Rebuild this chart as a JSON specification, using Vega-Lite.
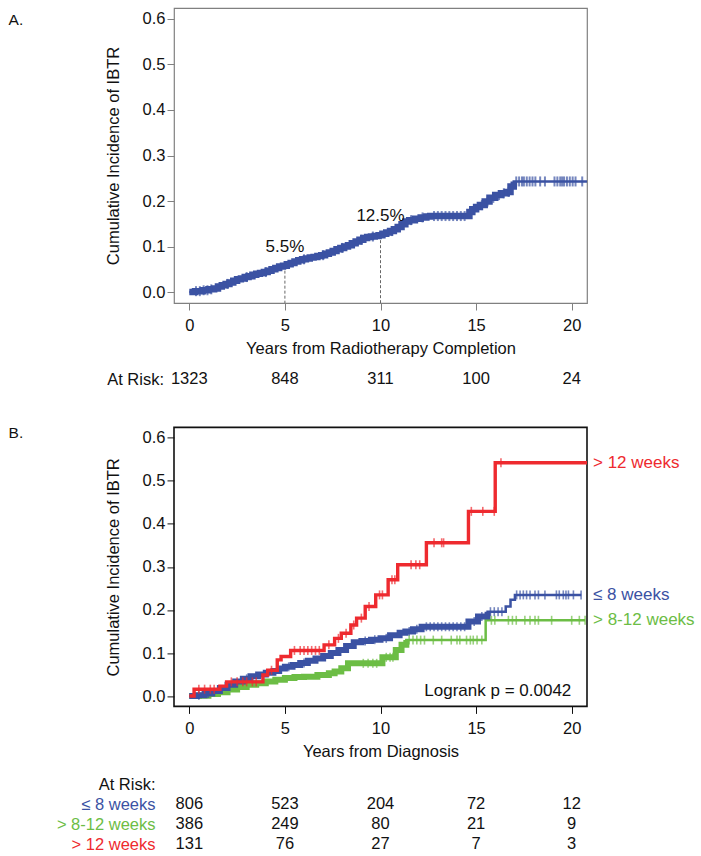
{
  "$schema": "https://vega.github.io/schema/vega-lite/v6.json",
  "padding": {"left": 7, "top": 7, "right": 5, "bottom": 0},
  "spacing": 12.7,
  "config": {
    "font": "Liberation Sans",
    "axis": {"grid": false, "domain": false, "labelFontSize": 16.5, "titleFontSize": 16.5, "titleFontWeight": "normal", "labelColor": "#111", "titleColor": "#111", "labelFlush": false},
    "title": {"fontSize": 15.5, "fontWeight": "normal", "color": "#111", "anchor": "start", "frame": "group"},
    "text": {"font": "Liberation Sans"}
  },
  "datasets": {
    "curveA": [
      {"t":0,"ci":0},{"t":0.3,"ci":0.002},{"t":0.7,"ci":0.004},{"t":1.0,"ci":0.006},{"t":1.3,"ci":0.008},{"t":1.5,"ci":0.012},{"t":1.7,"ci":0.015},{"t":1.9,"ci":0.018},{"t":2.1,"ci":0.021},{"t":2.3,"ci":0.025},{"t":2.5,"ci":0.028},{"t":2.7,"ci":0.030},{"t":2.9,"ci":0.033},{"t":3.1,"ci":0.035},{"t":3.3,"ci":0.038},{"t":3.5,"ci":0.040},{"t":3.7,"ci":0.042},{"t":3.9,"ci":0.044},{"t":4.1,"ci":0.047},{"t":4.3,"ci":0.050},{"t":4.5,"ci":0.053},{"t":4.7,"ci":0.056},{"t":4.9,"ci":0.058},{"t":5.1,"ci":0.061},{"t":5.3,"ci":0.064},{"t":5.5,"ci":0.067},{"t":5.7,"ci":0.070},{"t":5.9,"ci":0.072},{"t":6.1,"ci":0.074},{"t":6.3,"ci":0.076},{"t":6.5,"ci":0.077},{"t":6.7,"ci":0.079},{"t":6.9,"ci":0.081},{"t":7.1,"ci":0.084},{"t":7.3,"ci":0.087},{"t":7.5,"ci":0.090},{"t":7.7,"ci":0.094},{"t":7.9,"ci":0.097},{"t":8.1,"ci":0.100},{"t":8.3,"ci":0.103},{"t":8.5,"ci":0.107},{"t":8.7,"ci":0.111},{"t":8.9,"ci":0.115},{"t":9.1,"ci":0.119},{"t":9.3,"ci":0.121},{"t":9.5,"ci":0.122},{"t":9.7,"ci":0.123},{"t":9.9,"ci":0.125},{"t":10.1,"ci":0.128},{"t":10.3,"ci":0.131},{"t":10.5,"ci":0.134},{"t":10.7,"ci":0.138},{"t":10.9,"ci":0.143},{"t":11.1,"ci":0.149},{"t":11.3,"ci":0.155},{"t":11.5,"ci":0.158},{"t":11.8,"ci":0.161},{"t":12.1,"ci":0.164},{"t":12.4,"ci":0.166},{"t":12.6,"ci":0.167},{"t":14.65,"ci":0.176},{"t":14.8,"ci":0.182},{"t":15.0,"ci":0.187},{"t":15.2,"ci":0.191},{"t":15.45,"ci":0.199},{"t":15.7,"ci":0.207},{"t":16.0,"ci":0.213},{"t":16.3,"ci":0.217},{"t":16.6,"ci":0.220},{"t":16.8,"ci":0.232},{"t":16.97,"ci":0.243},{"t":20.8,"ci":0.243}
    ],
    "censA": [
      {"t":0.35,"ci":0.002},{"t":0.55,"ci":0.002},{"t":0.75,"ci":0.004},{"t":0.95,"ci":0.004},{"t":1.15,"ci":0.006},
      {"t":2.0,"ci":0.018},{"t":3.0,"ci":0.033},{"t":4.0,"ci":0.044},{"t":6.0,"ci":0.072},{"t":7.0,"ci":0.081},{"t":8.0,"ci":0.097},{"t":9.0,"ci":0.115},{"t":9.6,"ci":0.122},{"t":10.6,"ci":0.134},{"t":11.6,"ci":0.158},{"t":12.2,"ci":0.164},
      {"t":12.8,"ci":0.167},{"t":13.0,"ci":0.167},{"t":13.2,"ci":0.167},{"t":13.4,"ci":0.167},{"t":13.6,"ci":0.167},{"t":13.8,"ci":0.167},{"t":14.0,"ci":0.167},{"t":14.2,"ci":0.167},{"t":14.4,"ci":0.167},
      {"t":14.9,"ci":0.182},{"t":15.3,"ci":0.191},{"t":15.6,"ci":0.199},{"t":15.9,"ci":0.207},{"t":16.2,"ci":0.213},{"t":16.45,"ci":0.217},{"t":16.7,"ci":0.220},
      {"t":17.1,"ci":0.243},{"t":17.25,"ci":0.243},{"t":17.4,"ci":0.243},{"t":17.5,"ci":0.243},{"t":17.65,"ci":0.243},{"t":17.8,"ci":0.243},{"t":17.95,"ci":0.243},{"t":18.1,"ci":0.243},{"t":18.35,"ci":0.243},{"t":18.6,"ci":0.243},{"t":19.1,"ci":0.243},{"t":19.25,"ci":0.243},{"t":19.4,"ci":0.243},{"t":19.5,"ci":0.243},{"t":19.6,"ci":0.243},{"t":19.75,"ci":0.243},{"t":19.9,"ci":0.243},{"t":20.05,"ci":0.243},{"t":20.2,"ci":0.243},{"t":20.55,"ci":0.243}
    ],
    "annotA": [
      {"t":5,"ci":0.058,"label":"5.5%"},
      {"t":10,"ci":0.125,"label":"12.5%"}
    ],
    "curvesB": [
      {"g":"≤ 8 weeks","t":0,"ci":0},{"g":"≤ 8 weeks","t":0.4,"ci":0.002},{"g":"≤ 8 weeks","t":0.8,"ci":0.006},{"g":"≤ 8 weeks","t":1.2,"ci":0.012},{"g":"≤ 8 weeks","t":1.6,"ci":0.019},{"g":"≤ 8 weeks","t":2.0,"ci":0.026},{"g":"≤ 8 weeks","t":2.4,"ci":0.034},{"g":"≤ 8 weeks","t":2.8,"ci":0.040},{"g":"≤ 8 weeks","t":3.2,"ci":0.046},{"g":"≤ 8 weeks","t":3.6,"ci":0.050},{"g":"≤ 8 weeks","t":4.0,"ci":0.054},{"g":"≤ 8 weeks","t":4.4,"ci":0.058},{"g":"≤ 8 weeks","t":4.7,"ci":0.064},{"g":"≤ 8 weeks","t":5.0,"ci":0.068},{"g":"≤ 8 weeks","t":5.4,"ci":0.072},{"g":"≤ 8 weeks","t":5.8,"ci":0.077},{"g":"≤ 8 weeks","t":6.2,"ci":0.082},{"g":"≤ 8 weeks","t":6.6,"ci":0.087},{"g":"≤ 8 weeks","t":7.0,"ci":0.093},{"g":"≤ 8 weeks","t":7.4,"ci":0.100},{"g":"≤ 8 weeks","t":7.8,"ci":0.107},{"g":"≤ 8 weeks","t":8.2,"ci":0.116},{"g":"≤ 8 weeks","t":8.6,"ci":0.125},{"g":"≤ 8 weeks","t":9.0,"ci":0.128},{"g":"≤ 8 weeks","t":9.5,"ci":0.131},{"g":"≤ 8 weeks","t":10.0,"ci":0.134},{"g":"≤ 8 weeks","t":10.5,"ci":0.141},{"g":"≤ 8 weeks","t":11.0,"ci":0.147},{"g":"≤ 8 weeks","t":11.3,"ci":0.150},{"g":"≤ 8 weeks","t":11.7,"ci":0.155},{"g":"≤ 8 weeks","t":12.15,"ci":0.161},{"g":"≤ 8 weeks","t":14.6,"ci":0.173},{"g":"≤ 8 weeks","t":15.1,"ci":0.185},{"g":"≤ 8 weeks","t":15.6,"ci":0.196},{"g":"≤ 8 weeks","t":16.55,"ci":0.208},{"g":"≤ 8 weeks","t":16.8,"ci":0.2235},{"g":"≤ 8 weeks","t":17.03,"ci":0.235},{"g":"≤ 8 weeks","t":20.5,"ci":0.235},
      {"g":"> 8-12 weeks","t":0,"ci":0},{"g":"> 8-12 weeks","t":0.5,"ci":0.001},{"g":"> 8-12 weeks","t":1.0,"ci":0.005},{"g":"> 8-12 weeks","t":1.5,"ci":0.009},{"g":"> 8-12 weeks","t":2.0,"ci":0.015},{"g":"> 8-12 weeks","t":2.5,"ci":0.021},{"g":"> 8-12 weeks","t":3.0,"ci":0.026},{"g":"> 8-12 weeks","t":3.5,"ci":0.030},{"g":"> 8-12 weeks","t":4.0,"ci":0.034},{"g":"> 8-12 weeks","t":4.5,"ci":0.038},{"g":"> 8-12 weeks","t":5.0,"ci":0.042},{"g":"> 8-12 weeks","t":5.5,"ci":0.044},{"g":"> 8-12 weeks","t":6.0,"ci":0.045},{"g":"> 8-12 weeks","t":6.7,"ci":0.049},{"g":"> 8-12 weeks","t":7.3,"ci":0.053},{"g":"> 8-12 weeks","t":7.6,"ci":0.057},{"g":"> 8-12 weeks","t":7.95,"ci":0.0645},{"g":"> 8-12 weeks","t":8.3,"ci":0.076},{"g":"> 8-12 weeks","t":10.1,"ci":0.090},{"g":"> 8-12 weeks","t":10.8,"ci":0.107},{"g":"> 8-12 weeks","t":11.1,"ci":0.119},{"g":"> 8-12 weeks","t":11.35,"ci":0.130},{"g":"> 8-12 weeks","t":15.5,"ci":0.176},{"g":"> 8-12 weeks","t":20.7,"ci":0.176},
      {"g":"> 12 weeks","t":0,"ci":0},{"g":"> 12 weeks","t":0.25,"ci":0.016},{"g":"> 12 weeks","t":1.6,"ci":0.023},{"g":"> 12 weeks","t":1.95,"ci":0.033},{"g":"> 12 weeks","t":3.85,"ci":0.049},{"g":"> 12 weeks","t":4.1,"ci":0.060},{"g":"> 12 weeks","t":4.6,"ci":0.084},{"g":"> 12 weeks","t":4.8,"ci":0.092},{"g":"> 12 weeks","t":5.3,"ci":0.106},{"g":"> 12 weeks","t":7.05,"ci":0.119},{"g":"> 12 weeks","t":7.6,"ci":0.134},{"g":"> 12 weeks","t":7.95,"ci":0.146},{"g":"> 12 weeks","t":8.45,"ci":0.165},{"g":"> 12 weeks","t":8.75,"ci":0.181},{"g":"> 12 weeks","t":9.2,"ci":0.208},{"g":"> 12 weeks","t":9.75,"ci":0.235},{"g":"> 12 weeks","t":10.4,"ci":0.270},{"g":"> 12 weeks","t":10.9,"ci":0.305},{"g":"> 12 weeks","t":12.4,"ci":0.356},{"g":"> 12 weeks","t":14.6,"ci":0.429},{"g":"> 12 weeks","t":16.0,"ci":0.542},{"g":"> 12 weeks","t":20.8,"ci":0.542}
    ],
    "censB": [
      {"g":"≤ 8 weeks","t":0.5,"ci":0.002},{"g":"≤ 8 weeks","t":1.0,"ci":0.006},{"g":"≤ 8 weeks","t":3.0,"ci":0.040},{"g":"≤ 8 weeks","t":5.2,"ci":0.068},{"g":"≤ 8 weeks","t":6.0,"ci":0.077},{"g":"≤ 8 weeks","t":9.2,"ci":0.128},{"g":"≤ 8 weeks","t":9.7,"ci":0.131},{"g":"≤ 8 weeks","t":10.3,"ci":0.134},{"g":"≤ 8 weeks","t":11.5,"ci":0.150},{"g":"≤ 8 weeks","t":11.9,"ci":0.155},
      {"g":"≤ 8 weeks","t":12.4,"ci":0.161},{"g":"≤ 8 weeks","t":12.6,"ci":0.161},{"g":"≤ 8 weeks","t":12.8,"ci":0.161},{"g":"≤ 8 weeks","t":13.0,"ci":0.161},{"g":"≤ 8 weeks","t":13.2,"ci":0.161},{"g":"≤ 8 weeks","t":13.4,"ci":0.161},{"g":"≤ 8 weeks","t":13.6,"ci":0.161},{"g":"≤ 8 weeks","t":13.8,"ci":0.161},{"g":"≤ 8 weeks","t":14.0,"ci":0.161},{"g":"≤ 8 weeks","t":14.2,"ci":0.161},{"g":"≤ 8 weeks","t":14.4,"ci":0.161},
      {"g":"≤ 8 weeks","t":14.9,"ci":0.173},{"g":"≤ 8 weeks","t":15.3,"ci":0.185},{"g":"≤ 8 weeks","t":15.75,"ci":0.196},{"g":"≤ 8 weeks","t":15.95,"ci":0.196},{"g":"≤ 8 weeks","t":16.15,"ci":0.196},{"g":"≤ 8 weeks","t":16.35,"ci":0.196},
      {"g":"≤ 8 weeks","t":17.12,"ci":0.235},{"g":"≤ 8 weeks","t":17.3,"ci":0.235},{"g":"≤ 8 weeks","t":17.47,"ci":0.235},{"g":"≤ 8 weeks","t":17.64,"ci":0.235},{"g":"≤ 8 weeks","t":17.82,"ci":0.235},{"g":"≤ 8 weeks","t":18.08,"ci":0.235},{"g":"≤ 8 weeks","t":18.26,"ci":0.235},{"g":"≤ 8 weeks","t":18.6,"ci":0.235},{"g":"≤ 8 weeks","t":19.2,"ci":0.235},{"g":"≤ 8 weeks","t":19.35,"ci":0.235},{"g":"≤ 8 weeks","t":19.56,"ci":0.235},{"g":"≤ 8 weeks","t":19.7,"ci":0.235},{"g":"≤ 8 weeks","t":19.83,"ci":0.235},{"g":"≤ 8 weeks","t":20.09,"ci":0.235},{"g":"≤ 8 weeks","t":20.49,"ci":0.235},
      {"g":"> 8-12 weeks","t":9.1,"ci":0.076},{"g":"> 8-12 weeks","t":9.35,"ci":0.076},{"g":"> 8-12 weeks","t":9.6,"ci":0.076},{"g":"> 8-12 weeks","t":9.8,"ci":0.076},
      {"g":"> 8-12 weeks","t":10.3,"ci":0.090},{"g":"> 8-12 weeks","t":10.5,"ci":0.090},{"g":"> 8-12 weeks","t":10.65,"ci":0.090},
      {"g":"> 8-12 weeks","t":11.5,"ci":0.130},{"g":"> 8-12 weeks","t":11.7,"ci":0.130},{"g":"> 8-12 weeks","t":11.9,"ci":0.130},{"g":"> 8-12 weeks","t":12.1,"ci":0.130},{"g":"> 8-12 weeks","t":12.3,"ci":0.130},{"g":"> 8-12 weeks","t":12.76,"ci":0.130},{"g":"> 8-12 weeks","t":13.2,"ci":0.130},{"g":"> 8-12 weeks","t":13.7,"ci":0.130},{"g":"> 8-12 weeks","t":14.0,"ci":0.130},{"g":"> 8-12 weeks","t":14.15,"ci":0.130},{"g":"> 8-12 weeks","t":14.5,"ci":0.130},{"g":"> 8-12 weeks","t":14.7,"ci":0.130},{"g":"> 8-12 weeks","t":14.85,"ci":0.130},{"g":"> 8-12 weeks","t":15.05,"ci":0.130},{"g":"> 8-12 weeks","t":15.3,"ci":0.130},
      {"g":"> 8-12 weeks","t":15.8,"ci":0.176},{"g":"> 8-12 weeks","t":15.98,"ci":0.176},{"g":"> 8-12 weeks","t":16.69,"ci":0.176},{"g":"> 8-12 weeks","t":16.9,"ci":0.176},{"g":"> 8-12 weeks","t":17.1,"ci":0.176},{"g":"> 8-12 weeks","t":17.55,"ci":0.176},{"g":"> 8-12 weeks","t":17.82,"ci":0.176},{"g":"> 8-12 weeks","t":18.08,"ci":0.176},{"g":"> 8-12 weeks","t":18.26,"ci":0.176},{"g":"> 8-12 weeks","t":18.95,"ci":0.176},{"g":"> 8-12 weeks","t":20.0,"ci":0.176},{"g":"> 8-12 weeks","t":20.4,"ci":0.176},{"g":"> 8-12 weeks","t":20.7,"ci":0.176},
      {"g":"> 12 weeks","t":0.5,"ci":0.016},{"g":"> 12 weeks","t":0.8,"ci":0.016},{"g":"> 12 weeks","t":1.1,"ci":0.016},{"g":"> 12 weeks","t":1.3,"ci":0.016},{"g":"> 12 weeks","t":2.2,"ci":0.033},{"g":"> 12 weeks","t":2.5,"ci":0.033},{"g":"> 12 weeks","t":2.8,"ci":0.033},{"g":"> 12 weeks","t":3.0,"ci":0.033},{"g":"> 12 weeks","t":3.3,"ci":0.033},{"g":"> 12 weeks","t":3.5,"ci":0.033},{"g":"> 12 weeks","t":4.3,"ci":0.060},{"g":"> 12 weeks","t":5.5,"ci":0.106},{"g":"> 12 weeks","t":5.8,"ci":0.106},{"g":"> 12 weeks","t":6.0,"ci":0.106},{"g":"> 12 weeks","t":6.2,"ci":0.106},{"g":"> 12 weeks","t":6.4,"ci":0.106},{"g":"> 12 weeks","t":6.6,"ci":0.106},{"g":"> 12 weeks","t":6.8,"ci":0.106},{"g":"> 12 weeks","t":7.3,"ci":0.119},{"g":"> 12 weeks","t":7.8,"ci":0.134},{"g":"> 12 weeks","t":8.2,"ci":0.146},{"g":"> 12 weeks","t":8.6,"ci":0.165},{"g":"> 12 weeks","t":9.0,"ci":0.181},{"g":"> 12 weeks","t":9.4,"ci":0.208},{"g":"> 12 weeks","t":9.95,"ci":0.235},{"g":"> 12 weeks","t":10.1,"ci":0.235},{"g":"> 12 weeks","t":10.6,"ci":0.270},{"g":"> 12 weeks","t":10.75,"ci":0.270},{"g":"> 12 weeks","t":11.6,"ci":0.305},{"g":"> 12 weeks","t":11.85,"ci":0.305},{"g":"> 12 weeks","t":12.05,"ci":0.305},{"g":"> 12 weeks","t":12.8,"ci":0.356},{"g":"> 12 weeks","t":13.2,"ci":0.356},{"g":"> 12 weeks","t":13.3,"ci":0.356},{"g":"> 12 weeks","t":14.75,"ci":0.429},{"g":"> 12 weeks","t":15.35,"ci":0.429},{"g":"> 12 weeks","t":15.95,"ci":0.429},{"g":"> 12 weeks","t":16.3,"ci":0.542}
    ],
    "riskA": [
      {"row":"At Risk:","t":0,"n":"1323"},{"row":"At Risk:","t":5,"n":"848"},{"row":"At Risk:","t":10,"n":"311"},{"row":"At Risk:","t":15,"n":"100"},{"row":"At Risk:","t":20,"n":"24"}
    ],
    "riskB": [
      {"row":"≤ 8 weeks","t":0,"n":"806"},{"row":"≤ 8 weeks","t":5,"n":"523"},{"row":"≤ 8 weeks","t":10,"n":"204"},{"row":"≤ 8 weeks","t":15,"n":"72"},{"row":"≤ 8 weeks","t":20,"n":"12"},
      {"row":"> 8-12 weeks","t":0,"n":"386"},{"row":"> 8-12 weeks","t":5,"n":"249"},{"row":"> 8-12 weeks","t":10,"n":"80"},{"row":"> 8-12 weeks","t":15,"n":"21"},{"row":"> 8-12 weeks","t":20,"n":"9"},
      {"row":"> 12 weeks","t":0,"n":"131"},{"row":"> 12 weeks","t":5,"n":"76"},{"row":"> 12 weeks","t":10,"n":"27"},{"row":"> 12 weeks","t":15,"n":"7"},{"row":"> 12 weeks","t":20,"n":"3"}
    ]
  },
  "vconcat": [
    {
      "width": 413, "height": 295,
      "view": {"stroke": "#808080", "strokeWidth": 1.2},
      "title": {"text": "A.", "dx": -165.4, "offset": -20},
      "encoding": {
        "x": {"field": "t", "type": "quantitative", "scale": {"domain": [-0.8, 20.8], "nice": false, "zero": false},
              "axis": {"values": [0,5,10,15,20], "tickSize": 7, "labelPadding": 7, "titlePadding": 7, "tickColor": "#808080", "title": "Years from Radiotherapy Completion"}},
        "y": {"field": "ci", "type": "quantitative", "scale": {"domain": [-0.024, 0.624], "nice": false, "zero": false},
              "axis": {"values": [0,0.1,0.2,0.3,0.4,0.5,0.6], "format": ".1f", "tickSize": 7, "labelPadding": 2, "titlePadding": 21, "tickColor": "#808080", "title": "Cumulative Incidence of IBTR"}}
      },
      "layer": [
        {"data": {"name": "annotA"}, "mark": {"type": "rule", "strokeDash": [3, 2], "color": "#666666", "strokeWidth": 1}, "encoding": {"y2": {"datum": -0.024}}},
        {"data": {"name": "curveA"}, "mark": {"type": "line", "interpolate": "step-after", "strokeWidth": 2.5, "color": "#3B52A3"}},
        {"data": {"name": "curveA"}, "transform": [{"filter": "datum.t <= 17"}], "mark": {"type": "line", "interpolate": "step-after", "strokeWidth": 6.5, "color": "#3B52A3"}},
        {"data": {"name": "censA"}, "mark": {"type": "tick", "orient": "vertical", "size": 10, "thickness": 2, "color": "#3B52A3"}},
        {"data": {"name": "annotA"}, "mark": {"type": "text", "dy": -19, "fontSize": 17, "color": "#111"}, "encoding": {"text": {"field": "label"}}}
      ]
    },
    {
      "width": 413, "height": 41.4,
      "view": {"stroke": null},
      "data": {"name": "riskA"},
      "mark": {"type": "text", "fontSize": 16.5, "dy": -12.1, "color": "#111"},
      "encoding": {
        "x": {"field": "t", "type": "quantitative", "scale": {"domain": [-0.8, 20.8], "nice": false, "zero": false}, "axis": null},
        "y": {"field": "row", "type": "nominal", "axis": {"title": null, "domain": false, "ticks": false, "tickSize": 0, "labelPadding": 10.5, "labelOffset": -12.1, "labelFontSize": 16.5}},
        "text": {"field": "n"}
      }
    },
    {
      "width": 413, "height": 279,
      "view": {"stroke": "#111111", "strokeWidth": 1.6},
      "title": {"text": "B.", "dx": -165.4, "offset": -14.5},
      "encoding": {
        "x": {"field": "t", "type": "quantitative", "scale": {"domain": [-0.8, 20.8], "nice": false, "zero": false},
              "axis": {"values": [0,5,10,15,20], "tickSize": 7, "labelPadding": 7, "titlePadding": 7, "tickColor": "#111", "title": "Years from Diagnosis"}},
        "y": {"field": "ci", "type": "quantitative", "scale": {"domain": [-0.024, 0.624], "nice": false, "zero": false},
              "axis": {"values": [0,0.1,0.2,0.3,0.4,0.5,0.6], "format": ".1f", "tickSize": 7, "labelPadding": 2, "titlePadding": 21, "tickColor": "#111", "title": "Cumulative Incidence of IBTR"}},
        "color": {"field": "g", "type": "nominal", "scale": {"domain": ["≤ 8 weeks", "> 8-12 weeks", "> 12 weeks"], "range": ["#3B52A3", "#6CBD45", "#EE2A2F"]}, "legend": null}
      },
      "layer": [
        {"data": {"name": "curvesB"}, "transform": [{"filter": "datum.g === '> 8-12 weeks'"}], "mark": {"type": "line", "interpolate": "step-after", "strokeWidth": 2.5}},
        {"data": {"name": "curvesB"}, "transform": [{"filter": "datum.g === '> 8-12 weeks' && datum.t <= 12.4"}], "mark": {"type": "line", "interpolate": "step-after", "strokeWidth": 6}},
        {"data": {"name": "curvesB"}, "transform": [{"filter": "datum.g === '≤ 8 weeks'"}], "mark": {"type": "line", "interpolate": "step-after", "strokeWidth": 2.5}},
        {"data": {"name": "curvesB"}, "transform": [{"filter": "datum.g === '≤ 8 weeks' && datum.t <= 15.6"}], "mark": {"type": "line", "interpolate": "step-after", "strokeWidth": 6}},
        {"data": {"name": "censB"}, "transform": [{"filter": "datum.g !== '> 12 weeks'"}], "mark": {"type": "tick", "orient": "vertical", "size": 9, "thickness": 1.6}},
        {"data": {"name": "curvesB"}, "transform": [{"filter": "datum.g === '> 12 weeks'"}], "mark": {"type": "line", "interpolate": "step-after", "strokeWidth": 3.4}},
        {"data": {"name": "censB"}, "transform": [{"filter": "datum.g === '> 12 weeks'"}], "mark": {"type": "tick", "orient": "vertical", "size": 9, "thickness": 1.6}},
        {"data": {"name": "curvesB"},
         "transform": [
           {"joinaggregate": [{"op": "max", "field": "t", "as": "tend"}]},
           {"joinaggregate": [{"op": "max", "field": "t", "as": "tlast"}], "groupby": ["g"]},
           {"filter": "datum.t === datum.tlast"}
         ],
         "mark": {"type": "text", "align": "left", "baseline": "middle", "dx": 6, "fontSize": 17},
         "encoding": {"x": {"field": "tend", "type": "quantitative"}, "y": {"field": "ci", "type": "quantitative"}, "text": {"field": "g", "type": "nominal"}}},
        {"data": {"name": "curvesB"},
         "transform": [{"aggregate": [{"op": "max", "field": "t", "as": "tend"}, {"op": "min", "field": "ci", "as": "cmin"}]}],
         "mark": {"type": "text", "align": "right", "baseline": "middle", "dx": -15.7, "dy": -5, "fontSize": 17, "color": "#111"},
         "encoding": {"x": {"field": "tend", "type": "quantitative"}, "y": {"field": "cmin", "type": "quantitative"}, "text": {"value": "Logrank p = 0.0042"}, "color": {"value": "#111"}}}
      ]
    },
    {
      "width": 413, "height": 80,
      "view": {"stroke": null},
      "data": {"name": "riskB"},
      "mark": {"type": "text", "fontSize": 16.5, "color": "#111"},
      "encoding": {
        "x": {"field": "t", "type": "quantitative", "scale": {"domain": [-0.8, 20.8], "nice": false, "zero": false}, "axis": null},
        "y": {"field": "row", "type": "nominal", "scale": {"domain": ["At Risk:", "≤ 8 weeks", "> 8-12 weeks", "> 12 weeks"]},
              "axis": {"title": null, "domain": false, "ticks": false, "tickSize": 0, "labelPadding": 19, "labelFontSize": 16.5,
                       "labelColor": {"condition": [{"test": "datum.value === '≤ 8 weeks'", "value": "#3B52A3"}, {"test": "datum.value === '> 8-12 weeks'", "value": "#6CBD45"}, {"test": "datum.value === '> 12 weeks'", "value": "#EE2A2F"}], "value": "#111"}}},
        "text": {"field": "n"}
      }
    }
  ]
}
